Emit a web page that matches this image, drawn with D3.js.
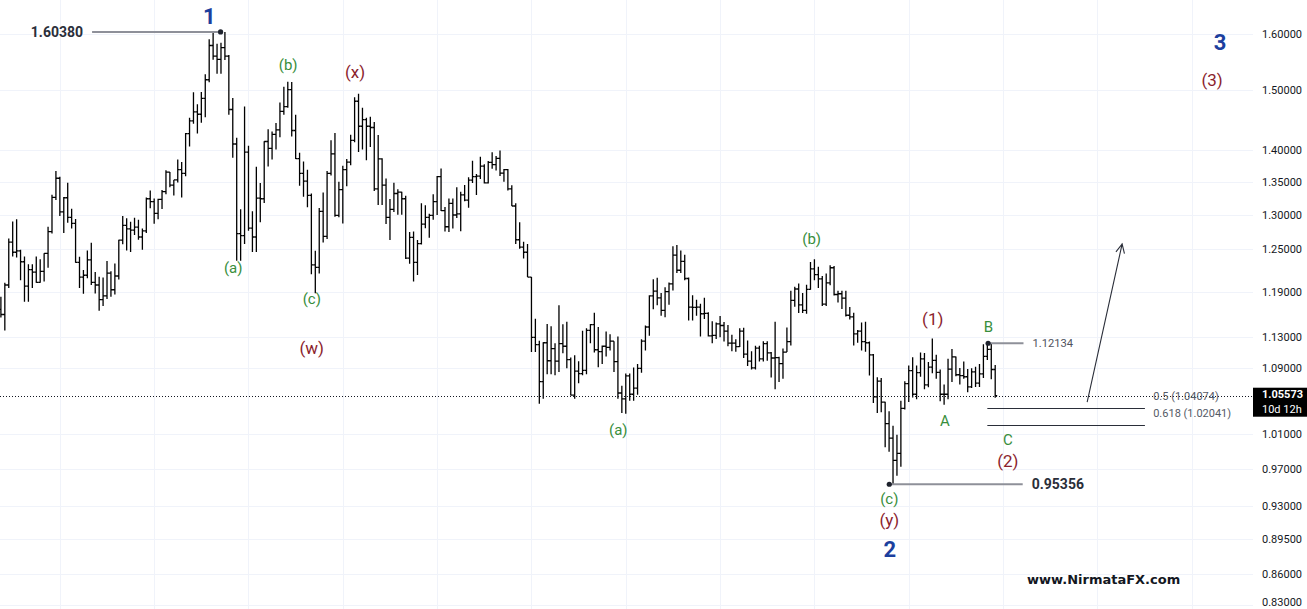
<!DOCTYPE html>
<html><head><meta charset="utf-8">
<script src="https://cdn.jsdelivr.net/npm/d3@7"></script>
<style>
html,body{margin:0;padding:0;background:#fff;overflow:hidden;}
svg{display:block;}
</style>
</head><body>
<svg id="c" width="1307" height="609"></svg>
<script>
// EURUSD monthly bars, Oct 2003 .. Nov 2024
const firstMonth = "2003-10";
const opens = [
1.1660,1.1590,1.1990,
1.2595,1.2450,1.2470,1.2315,1.1975,1.2205,1.2170,1.2025,1.2180,1.2435,1.2750,1.3260,
1.3555,1.3040,1.3255,1.2960,1.2870,1.2305,1.2100,1.2125,1.2340,1.2025,1.1990,1.1790,
1.1840,1.2155,1.1925,1.2115,1.2625,1.2840,1.2790,1.2770,1.2815,1.2670,1.2760,1.3240,
1.3195,1.3020,1.3230,1.3350,1.3650,1.3450,1.3530,1.3690,1.3630,1.4270,1.4480,1.4630,
1.4590,1.4860,1.5180,1.5790,1.5600,1.5540,1.5750,1.5600,1.4670,1.4100,1.2720,1.2690,
1.3970,1.2800,1.2670,1.3250,1.3240,1.4140,1.4030,1.4255,1.4330,1.4640,1.4720,1.5010,
1.4320,1.3865,1.3630,1.3510,1.3290,1.2270,1.2235,1.3050,1.2680,1.3630,1.3940,1.2990,
1.3380,1.3690,1.3810,1.4160,1.4810,1.4390,1.4500,1.4390,1.4370,1.3390,1.3860,1.3450,
1.2960,1.3080,1.3320,1.3340,1.3240,1.2365,1.2665,1.2305,1.2575,1.2860,1.2960,1.2990,
1.3195,1.3580,1.3060,1.2820,1.3170,1.2995,1.3010,1.3300,1.3220,1.3525,1.3580,1.3590,
1.3745,1.3485,1.3805,1.3770,1.3870,1.3635,1.3690,1.3390,1.3130,1.2630,1.2525,1.2450,
1.2100,1.1290,1.1195,1.0730,1.1220,1.0990,1.1145,1.0985,1.1210,1.1175,1.1005,1.0565,
1.0860,1.0830,1.0870,1.1380,1.1455,1.1130,1.1105,1.1175,1.1160,1.1240,1.0980,1.0590,
1.0520,1.0800,1.0575,1.0650,1.0895,1.1240,1.1425,1.1840,1.1905,1.1815,1.1645,1.1900,
1.2005,1.2410,1.2195,1.2320,1.2080,1.1690,1.1685,1.1690,1.1600,1.1605,1.1310,1.1315,
1.1465,1.1445,1.1370,1.1215,1.1215,1.1170,1.1370,1.1075,1.0985,1.0900,1.1150,1.1015,
1.1210,1.1090,1.1025,1.1030,1.0955,1.1100,1.1235,1.1780,1.1935,1.1720,1.1645,1.1930,
1.2215,1.2135,1.2075,1.1730,1.2020,1.2230,1.1860,1.1870,1.1810,1.1580,1.1560,1.1335,
1.1370,1.1235,1.1220,1.1065,1.0545,1.0735,1.0480,1.0225,1.0055,0.9800,0.9880,1.0405,
1.0705,1.0865,1.0575,1.0840,1.1015,1.0690,1.0910,1.0995,1.0845,1.0575,1.0575,1.0885,
1.1040,1.0815,1.0805,1.0790,1.0665,1.0850,1.0710,1.0825,1.1045,1.1135,1.0880
];
const highs = [
1.1830,1.2020,1.2647,
1.2898,1.2930,1.2485,1.2390,1.2280,1.2280,1.2390,1.2350,1.2435,1.2820,1.3300,1.3667,
1.3580,1.3265,1.3485,1.3090,1.2935,1.2385,1.2200,1.2475,1.2585,1.2170,1.2105,1.2095,
1.2325,1.2180,1.2290,1.2630,1.2980,1.2945,1.2895,1.2955,1.2925,1.2795,1.3260,1.3365,
1.3245,1.3240,1.3375,1.3680,1.3655,1.3530,1.3850,1.3810,1.4280,1.4530,1.4965,1.4760,
1.4970,1.5275,1.5905,1.6020,1.5820,1.5840,1.6038,1.5620,1.4865,1.4200,1.3080,1.4720,
1.4070,1.3050,1.3735,1.3480,1.4145,1.4340,1.4305,1.4445,1.4790,1.5060,1.5145,1.5140,
1.4580,1.3960,1.3820,1.3690,1.3320,1.2470,1.3100,1.3335,1.3670,1.4160,1.4280,1.3500,
1.3750,1.3860,1.4250,1.4880,1.4940,1.4700,1.4530,1.4550,1.4460,1.4245,1.3870,1.3550,
1.3235,1.3485,1.3385,1.3345,1.3285,1.2745,1.2750,1.2625,1.3170,1.3140,1.3015,1.3310,
1.3590,1.3710,1.3115,1.3245,1.3245,1.3415,1.3345,1.3450,1.3570,1.3830,1.3620,1.3895,
1.3775,1.3825,1.3965,1.3905,1.3995,1.3700,1.3700,1.3445,1.3170,1.2885,1.2600,1.2570,
1.2100,1.1535,1.1245,1.1225,1.1465,1.1435,1.1215,1.1715,1.1460,1.1495,1.1030,1.1060,
1.0985,1.1375,1.1410,1.1465,1.1615,1.1425,1.1185,1.1365,1.1330,1.1240,1.1300,1.0680,
1.0830,1.0830,1.0905,1.0950,1.1265,1.1445,1.1850,1.2070,1.2090,1.1880,1.1960,1.2025,
1.2535,1.2555,1.2475,1.2415,1.2095,1.1850,1.1790,1.1735,1.1815,1.1620,1.1500,1.1485,
1.1570,1.1490,1.1450,1.1325,1.1265,1.1410,1.1415,1.1250,1.1110,1.1180,1.1180,1.1240,
1.1240,1.1100,1.1495,1.1040,1.1145,1.1420,1.1910,1.1965,1.2010,1.1880,1.1995,1.2310,
1.2350,1.2245,1.2115,1.2150,1.2265,1.2255,1.1910,1.1910,1.1910,1.1690,1.1615,1.1385,
1.1485,1.1495,1.1235,1.1075,1.0785,1.0775,1.0485,1.0370,1.0200,1.0095,1.0495,1.0735,
1.0930,1.1035,1.0930,1.1095,1.1090,1.0975,1.1276,1.1065,1.0880,1.0695,1.1015,1.1140,
1.1045,1.0900,1.0980,1.0885,1.0895,1.0915,1.0950,1.1200,1.1213,1.1210,1.0937
];
const lows = [
1.1550,1.1380,1.1950,
1.2390,1.2375,1.2055,1.1760,1.1760,1.1950,1.2020,1.2020,1.2040,1.2230,1.2720,1.3220,
1.2980,1.2730,1.2880,1.2795,1.2300,1.1950,1.1870,1.2085,1.1990,1.1875,1.1640,1.1705,
1.1800,1.1830,1.1860,1.2065,1.2565,1.2475,1.2455,1.2700,1.2630,1.2485,1.2730,1.3095,
1.2865,1.2930,1.3085,1.3310,1.3415,1.3290,1.3490,1.3260,1.3585,1.4060,1.4430,1.4270,
1.4450,1.4540,1.5135,1.5535,1.5285,1.5285,1.5530,1.4580,1.3880,1.2330,1.2330,1.2570,
1.2760,1.2455,1.2455,1.2885,1.3175,1.3740,1.3850,1.4010,1.4210,1.4580,1.4700,1.4220,
1.3860,1.3440,1.3270,1.3110,1.2140,1.1876,1.2150,1.2590,1.2640,1.3600,1.2970,1.2960,
1.2870,1.3430,1.3760,1.4130,1.3970,1.4010,1.3840,1.4050,1.3360,1.3145,1.3145,1.2860,
1.2625,1.3040,1.3000,1.3000,1.2355,1.2285,1.2040,1.2130,1.2560,1.2800,1.2660,1.2925,
1.2995,1.3055,1.2750,1.2745,1.2795,1.2950,1.2755,1.3200,1.3105,1.3480,1.3295,1.3545,
1.3475,1.3475,1.3705,1.3675,1.3590,1.3500,1.3365,1.3130,1.2570,1.2500,1.2360,1.2100,
1.1100,1.1100,1.0460,1.0520,1.0820,1.0820,1.0810,1.0850,1.1085,1.0895,1.0560,1.0520,
1.0710,1.0810,1.0820,1.1215,1.1095,1.0910,1.0950,1.1045,1.1120,1.0850,1.0520,1.0350,
1.0340,1.0495,1.0495,1.0570,1.0840,1.1120,1.1310,1.1660,1.1715,1.1575,1.1555,1.1720,
1.1915,1.2155,1.2155,1.2055,1.1510,1.1510,1.1575,1.1300,1.1530,1.1300,1.1215,1.1270,
1.1290,1.1235,1.1175,1.1110,1.1105,1.1165,1.1025,1.0925,1.0880,1.0880,1.0980,1.0980,
1.0990,1.0780,1.0635,1.0725,1.0765,1.1100,1.1185,1.1695,1.1610,1.1610,1.1600,1.1925,
1.2055,1.1950,1.1705,1.1705,1.1985,1.1845,1.1750,1.1665,1.1565,1.1525,1.1185,1.1220,
1.1120,1.1105,1.0805,1.0470,1.0350,1.0360,0.9950,0.9900,0.95356,0.9630,0.9730,1.0390,
1.0480,1.0535,1.0515,1.0790,1.0635,1.0660,1.0835,1.0765,1.0490,1.0448,1.0515,1.0725,
1.0795,1.0695,1.0765,1.0600,1.0650,1.0665,1.0665,1.0775,1.1000,1.0760,1.0533
];
const closes = [
1.1590,1.1990,1.2595,
1.2450,1.2470,1.2315,1.1975,1.2205,1.2170,1.2025,1.2180,1.2435,1.2750,1.3260,1.3555,
1.3040,1.3255,1.2960,1.2870,1.2305,1.2100,1.2125,1.2340,1.2025,1.1990,1.1790,1.1840,
1.2155,1.1925,1.2115,1.2625,1.2840,1.2790,1.2770,1.2815,1.2670,1.2760,1.3240,1.3195,
1.3020,1.3230,1.3350,1.3650,1.3450,1.3530,1.3690,1.3630,1.4270,1.4480,1.4630,1.4590,
1.4860,1.5180,1.5790,1.5600,1.5540,1.5750,1.5600,1.4670,1.4100,1.2720,1.2690,1.3970,
1.2800,1.2670,1.3250,1.3240,1.4140,1.4030,1.4255,1.4330,1.4640,1.4720,1.5010,1.4320,
1.3865,1.3630,1.3510,1.3290,1.2270,1.2235,1.3050,1.2680,1.3630,1.3940,1.2990,1.3380,
1.3690,1.3810,1.4160,1.4810,1.4390,1.4500,1.4390,1.4370,1.3390,1.3860,1.3450,1.2960,
1.3080,1.3320,1.3340,1.3240,1.2365,1.2665,1.2305,1.2575,1.2860,1.2960,1.2990,1.3195,
1.3580,1.3060,1.2820,1.3170,1.2995,1.3010,1.3300,1.3220,1.3525,1.3580,1.3590,1.3745,
1.3485,1.3805,1.3770,1.3870,1.3635,1.3690,1.3390,1.3130,1.2630,1.2525,1.2450,1.2100,
1.1290,1.1195,1.0730,1.1220,1.0990,1.1145,1.0985,1.1210,1.1175,1.1005,1.0565,1.0860,
1.0830,1.0870,1.1380,1.1455,1.1130,1.1105,1.1175,1.1160,1.1240,1.0980,1.0590,1.0520,
1.0800,1.0575,1.0650,1.0895,1.1240,1.1425,1.1840,1.1905,1.1815,1.1645,1.1900,1.2005,
1.2410,1.2195,1.2320,1.2080,1.1690,1.1685,1.1690,1.1600,1.1605,1.1310,1.1315,1.1465,
1.1445,1.1370,1.1215,1.1215,1.1170,1.1370,1.1075,1.0985,1.0900,1.1150,1.1015,1.1210,
1.1090,1.1025,1.1030,1.0955,1.1100,1.1235,1.1780,1.1935,1.1720,1.1645,1.1930,1.2215,
1.2135,1.2075,1.1730,1.2020,1.2230,1.1860,1.1870,1.1810,1.1580,1.1560,1.1335,1.1370,
1.1235,1.1220,1.1065,1.0545,1.0735,1.0480,1.0225,1.0055,0.9800,0.9880,1.0405,1.0705,
1.0865,1.0575,1.0840,1.1015,1.0690,1.0910,1.0995,1.0845,1.0575,1.0575,1.0885,1.1040,
1.0815,1.0805,1.0790,1.0665,1.0850,1.0710,1.0825,1.1045,1.1135,1.0880,1.05573
];

const tickValues = [1.6,1.5,1.4,1.35,1.3,1.25,1.19,1.13,1.09,1.01,0.97,0.93,0.895,0.86,0.83];
const lastPrice = 1.05573;
const countdown = "10d 12h";
const fibLevels = [{ratio:"0.5", value:1.04074},{ratio:"0.618", value:1.02041}];
const priceNotes = [
  {text:"1.60380", value:1.60380, dotIdx:55.9, lineTo:23.2, side:"left", bold:true},
  {text:"0.95356", value:0.95356, dotIdx:226.05, lineTo:260.0, side:"right", bold:true},
  {text:"1.12134", value:1.12134, dotIdx:251.2, lineTo:260.2, side:"right", bold:false}
];
// wave labels: month index (from firstMonth) and price of label centre
const waveLabels = [
  {t:"1",   i:53.0,  p:1.6334, k:"blue"},
  {t:"(b)", i:73.1,  p:1.544,  k:"green"},
  {t:"(a)", i:59.1,  p:1.2230, k:"green"},
  {t:"(c)", i:79.1,  p:1.180,  k:"green"},
  {t:"(x)", i:90.1,  p:1.532,  k:"red"},
  {t:"(w)", i:79.1,  p:1.1149, k:"red"},
  {t:"(a)", i:157.1, p:1.0158, k:"green"},
  {t:"(b)", i:206.3, p:1.2642, k:"green"},
  {t:"(1)", i:237.1, p:1.1530, k:"red"},
  {t:"B",   i:251.25,p:1.1429, k:"green"},
  {t:"A",   i:240.2, p:1.0258, k:"green"},
  {t:"(c)", i:226.05,p:0.9376, k:"green"},
  {t:"(y)", i:226.05,p:0.9152, k:"red"},
  {t:"2",   i:226.2, p:0.8850, k:"blue"},
  {t:"C",   i:256.2, p:1.0034, k:"green"},
  {t:"(2)", i:256.2, p:0.9795, k:"red"},
  {t:"3",   i:310.2, p:1.5854, k:"blue"},
  {t:"(3)", i:308.2, p:1.5176, k:"red"}
];
const arrowPath = [{i:276.4, p:1.0481},{i:285.3, p:1.2569}];

const W = 1307, H = 609, plotRight = 1253;
const svg = d3.select("#c");
const n = closes.length;
const x = d3.scaleLinear().domain([0, n - 1]).range([0.9, 995.2]);
const y = d3.scaleLog().domain([0.83, 1.6]).range([605, 34]);

// grid
const gridIdx = d3.range(15, 400, 24).filter(i => x(i) < plotRight);
const grid = svg.append("g").attr("stroke", "#f0f3fa").attr("stroke-width", 1);
grid.selectAll("line.v").data(gridIdx).join("line").attr("class","v")
  .attr("x1", d => Math.round(x(d)) + 0.5).attr("x2", d => Math.round(x(d)) + 0.5)
  .attr("y1", 0).attr("y2", H);
grid.selectAll("line.h").data(tickValues).join("line").attr("class","h")
  .attr("x1", 0).attr("x2", plotRight)
  .attr("y1", d => Math.round(y(d)) + 0.5).attr("y2", d => Math.round(y(d)) + 0.5);

// OHLC bars
const bars = d3.range(n);
svg.append("g").attr("stroke", "#000").attr("stroke-width", 1.3).attr("fill", "none")
  .selectAll("path").data(bars).join("path")
  .attr("d", i => {
    const cx = x(i);
    return `M${cx},${y(highs[i])}V${y(lows[i])}M${cx-2},${y(opens[i])}H${cx}M${cx},${y(closes[i])}H${cx+2}`;
  });

// last price dotted line
const yl = Math.round(y(lastPrice)) + 0.5;
svg.append("line").attr("x1", 0).attr("x2", plotRight).attr("y1", yl).attr("y2", yl)
  .attr("stroke", "#131722").attr("stroke-width", 1).attr("stroke-dasharray", "1,2");

// fib levels
const fg = svg.append("g");
fibLevels.forEach(f => {
  const yy = Math.round(y(f.value)) + 0.5;
  fg.append("line").attr("x1", x(251)).attr("x2", x(291.1)).attr("y1", yy).attr("y2", yy)
    .attr("stroke", "#2a2e39").attr("stroke-width", 1);
  fg.append("text").attr("x", x(293.2)).attr("y", yy - 12.5).attr("dy", "0.35em")
    .attr("font-family", "Roboto, sans-serif").attr("font-size", 11).attr("fill", "#555a66")
    .text(`${f.ratio} (${f.value.toFixed(5)})`);
});

// price notes
const pg = svg.append("g");
priceNotes.forEach(d => {
  const yy = y(d.value);
  pg.append("line").attr("x1", x(d.dotIdx)).attr("x2", x(d.lineTo)).attr("y1", yy).attr("y2", yy)
    .attr("stroke", "#8e9099").attr("stroke-width", 2);
  pg.append("circle").attr("cx", x(d.dotIdx)).attr("cy", yy).attr("r", 2.6).attr("fill", "#1e222d");
  const tx = d.side === "left" ? x(d.lineTo) - 9 : x(d.lineTo) + 9;
  pg.append("text").attr("x", tx).attr("y", yy).attr("dy", "0.36em")
    .attr("text-anchor", d.side === "left" ? "end" : "start")
    .attr("font-family", "Roboto, sans-serif")
    .attr("font-size", d.bold ? 14 : 11.2).attr("font-weight", d.bold ? 700 : 400)
    .attr("fill", d.bold ? "#2a2e39" : "#50535e").text(d.text);
});

// arrow
const a0 = [x(arrowPath[0].i), y(arrowPath[0].p)], a1 = [x(arrowPath[1].i), y(arrowPath[1].p)];
const ang = Math.atan2(a0[1] - a1[1], a0[0] - a1[0]);
const hl = 10, ha = 0.45;
svg.append("path")
  .attr("d", `M${a0[0]},${a0[1]}L${a1[0]},${a1[1]}M${a1[0] + hl*Math.cos(ang-ha)},${a1[1] + hl*Math.sin(ang-ha)}L${a1[0]},${a1[1]}L${a1[0] + hl*Math.cos(ang+ha)},${a1[1] + hl*Math.sin(ang+ha)}`)
  .attr("fill", "none").attr("stroke", "#2a2e39").attr("stroke-width", 1.1);

// wave labels
const styles = {
  blue:  {fill: "#1c3f9e", size: 22, weight: 700},
  green: {fill: "#388e3c", size: 15, weight: 400},
  red:   {fill: "#8b1e2d", size: 17, weight: 400}
};
svg.append("g").selectAll("text").data(waveLabels).join("text")
  .attr("x", d => x(d.i)).attr("y", d => y(d.p)).attr("dy", "0.36em")
  .attr("text-anchor", "middle").attr("font-family", "Roboto, sans-serif")
  .attr("font-size", d => styles[d.k].size).attr("font-weight", d => styles[d.k].weight)
  .attr("fill", d => styles[d.k].fill).text(d => d.t);

// right price axis
const axis = d3.axisRight(y).tickValues(tickValues).tickFormat(d3.format(".5f")).tickSize(0).tickPadding(0);
const gA = svg.append("g").attr("transform", "translate(1262,0)").call(axis);
gA.select(".domain").remove();
gA.selectAll("text").attr("font-family", "Roboto, sans-serif").attr("font-size", 11).attr("fill", "#131722");
// keep the lowest label inside the picture
gA.selectAll(".tick").filter(d => d === 0.83).select("text").attr("dy", "0.05em");

// last price box
const yc = y(lastPrice);
svg.append("rect").attr("x", 1253).attr("y", yc - 8).attr("width", 54).attr("height", 29).attr("fill", "#000");
svg.append("text").attr("x", 1262).attr("y", yc - 1.5).attr("dy", "0.36em")
  .attr("font-family", "Roboto, sans-serif").attr("font-size", 11).attr("font-weight", 700)
  .attr("fill", "#fff").text(d3.format(".5f")(lastPrice));
svg.append("text").attr("x", 1262).attr("y", yc + 13.5).attr("dy", "0.36em")
  .attr("font-family", "Roboto, sans-serif").attr("font-size", 11)
  .attr("fill", "#fff").text(countdown);

// watermark
svg.append("text").attr("x", 1027).attr("y", 579.5).attr("dy", "0.36em")
  .attr("font-family", "'DejaVu Sans', sans-serif").attr("font-size", 13).attr("font-weight", 700)
  .attr("fill", "#131722").text("www.NirmataFX.com");
</script>
</body></html>
